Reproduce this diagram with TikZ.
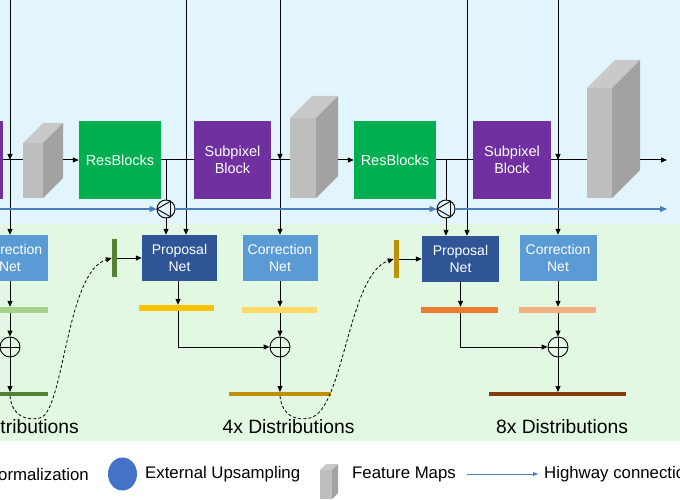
\documentclass[tikz,border=0pt]{standalone}
\usepackage{fontspec}
\setmainfont{Liberation Sans}
\usetikzlibrary{arrows.meta,calc,shapes.geometric}
\definecolor{bgblue}{HTML}{E2F5FD}
\definecolor{bggreen}{HTML}{E3F8E3}
\definecolor{resgreen}{HTML}{00B050}
\definecolor{subpurple}{HTML}{7030A0}
\definecolor{propblue}{HTML}{2F5597}
\definecolor{corrblue}{HTML}{5B9BD5}
\definecolor{hwblue}{HTML}{4A7EBB}
\definecolor{legblue}{HTML}{4472C4}
\definecolor{fmfront}{HTML}{BEBEBE}
\definecolor{fmtop}{HTML}{C9C9C9}
\definecolor{fmside}{HTML}{A2A2A2}
\definecolor{barA}{HTML}{A9D18E}
\definecolor{barB}{HTML}{548235}
\definecolor{barC}{HTML}{FFC000}
\definecolor{barD}{HTML}{FFD966}
\definecolor{barE}{HTML}{BF9000}
\definecolor{barF}{HTML}{ED7D31}
\definecolor{barG}{HTML}{F4B183}
\definecolor{barH}{HTML}{843C0C}
\newcommand\featmap[5]{%
  \fill[fmfront] (#1,#2) rectangle ++(#3,#4);
  \fill[fmtop] (#1,#2) -- ++(#5,-#5) -- ++(#3,0) -- ++(-#5,#5) -- cycle;
  \fill[fmside] (#1+#3,#2) -- ++(#5,-#5) -- ++(0,#4) -- ++(-#5,#5) -- cycle;}
\tikzset{
  blk/.style={inner sep=0pt, align=center, text=white, font=\fontsize{14.5}{17}\selectfont, minimum height=77pt},
  net/.style={inner sep=0pt, align=center, text=white, font=\fontsize{14}{16.7}\selectfont, minimum height=46pt},
  bar/.style={inner sep=0pt, minimum height=6pt},
  fbar/.style={inner sep=0pt, minimum height=3.5pt},
  vbar/.style={inner sep=0pt, minimum width=5pt, minimum height=38pt},
  ln/.style={line width=1pt, black},
  arr/.style={ln, -{Triangle[length=6pt,width=5pt]}},
  hw/.style={line width=1.1pt, hwblue, -{Triangle[length=7pt,width=6pt]}},
  oplus/.style={circle, draw, line width=0.9pt, minimum size=20pt, inner sep=0pt,
    path picture={\draw[line width=0.9pt] (path picture bounding box.north) -- (path picture bounding box.south)
      (path picture bounding box.west) -- (path picture bounding box.east);}},
  upc/.style={circle, draw, line width=0.9pt, minimum size=18pt, inner sep=0pt},
  dist/.style={font=\fontsize{19.3}{21}\selectfont, inner sep=0pt},
  leg/.style={font=\fontsize{16.8}{18}\selectfont, inner sep=0pt},
  dsh/.style={line width=0.8pt, dash pattern=on 3pt off 2.2pt, -{Triangle[length=6pt,width=5pt]}}
}
\begin{document}
\begin{tikzpicture}[x=1pt,y=-1pt]
\useasboundingbox (0,0) rectangle (680,500);
\clip (0,0) rectangle (680,500);
% backgrounds
\fill[white] (0,0) rectangle (680,500);
\fill[bgblue] (0,0) rectangle (680,224);
\fill[bggreen] (0,224) rectangle (680,441);

% coordinates
\coordinate (t0) at (10,0);
\coordinate (t1) at (186,0);
\coordinate (t2) at (280,0);
\coordinate (t3) at (467,0);
\coordinate (t4) at (558,0);
\coordinate (j0) at (10,160);
\coordinate (j2) at (280,160);
\coordinate (j4) at (558,160);
\coordinate (b1) at (166,160);
\coordinate (b2) at (446,160);
\coordinate (fm1w) at (23,160);
\coordinate (fm1e) at (63,160);
\coordinate (fm2w) at (290,160);
\coordinate (fm2e) at (338,160);
\coordinate (fm3w) at (587,160);
\coordinate (fm3e) at (640,160);
\coordinate (out) at (667,160);
\coordinate (hw0) at (0,209);
\coordinate (hwout) at (667,209);

% main line segments (behind)
\draw[ln] (3,160) -- (fm1w);
\draw[ln] (fm2w) -- (fm2e);

% feature maps
\featmap{23}{143}{20}{55}{20}
\featmap{290}{118}{26}{80}{22}
\featmap{587}{88}{25}{110}{28}

% blocks
\node[blk, fill=subpurple, minimum width=77pt] (sp0) at (-35.5,160) {};
\node[blk, fill=resgreen, minimum width=82pt] (rb1) at (120,160) {ResBlocks};
\node[blk, fill=subpurple, minimum width=77pt] (sp1) at (232.5,160) {Subpixel\\Block};
\node[blk, fill=resgreen, minimum width=82pt] (rb2) at (395,160) {ResBlocks};
\node[blk, fill=subpurple, minimum width=78pt] (sp2) at (512,160) {Subpixel\\Block};

% upsampling circles
\node[upc] (up1) at (166,209) {};
\node[upc] (up2) at (446,209) {};
\foreach \u in {up1,up2}{
  \draw[line width=0.9pt] ([shift={(180:9)}]\u.center) -- ([shift={(60:9)}]\u.center) -- ([shift={(-60:9)}]\u.center) -- cycle;}

% nets
\node[net, fill=corrblue, minimum width=75pt] (cn0) at (10,258) {Correction\\Net};
\node[net, fill=propblue, minimum width=75pt] (pn1) at (179.5,258) {Proposal\\Net};
\node[net, fill=corrblue, minimum width=75pt] (cn1) at (280,258) {Correction\\Net};
\node[net, fill=propblue, minimum width=77pt] (pn2) at (460.5,259) {Proposal\\Net};
\node[net, fill=corrblue, minimum width=77pt] (cn2) at (558,258) {Correction\\Net};

% bars
\node[bar, fill=barA, minimum width=75pt] (bc0) at (10.5,310) {};
\node[fbar, fill=barB, minimum width=98pt] (bd0) at (-1,394) {};
\node[vbar, fill=barB] (vb1) at (114.5,258) {};
\node[bar, fill=barC, minimum width=75pt] (bp1) at (176.5,308) {};
\node[bar, fill=barD, minimum width=75pt] (bc1) at (279.5,310) {};
\node[fbar, fill=barE, minimum width=102pt] (bd1) at (280,394) {};
\node[vbar, fill=barE] (vb2) at (396.5,259) {};
\node[bar, fill=barF, minimum width=77pt] (bp2) at (459.5,310) {};
\node[bar, fill=barG, minimum width=77pt] (bc2) at (557.5,310) {};
\node[fbar, fill=barH, minimum width=137pt] (bd2) at (557.5,394) {};

% oplus
\node[oplus] (op0) at (10,347) {};
\node[oplus] (op1) at (280,347) {};
\node[oplus] (op2) at (558,347) {};

% main line connectors
\draw[arr] (fm1e) -- (rb1.west);
\draw[ln] (rb1.east) -- (sp1.west);
\draw[ln] (sp1.east) -- (fm2w);
\draw[arr] (fm2e) -- (rb2.west);
\draw[ln] (rb2.east) -- (sp2.west);
\draw[ln] (sp2.east) -- (fm3w);
\draw[arr] (fm3e) -- (out);

% top verticals
\draw[arr] (t0) -- (j0);
\draw[arr] (j0) -- (cn0.north);
\draw[arr] (t1) -- (t1 |- pn1.north);
\draw[arr] (t2) -- (j2);
\draw[arr] (j2) -- (cn1.north);
\draw[arr] (t3) -- (t3 |- pn2.north);
\draw[arr] (t4) -- (j4);
\draw[arr] (j4) -- (cn2.north);

% branches through upsampling
\draw[ln] (b1) -- (up1.north);
\draw[arr] (up1.south) -- (up1.south |- pn1.north);
\draw[ln] (b2) -- (up2.north);
\draw[arr] (up2.south) -- (up2.south |- pn2.north);

% highway
\draw[hw] (hw0) -- (up1.west);
\draw[hw] (up1.east) -- (up2.west);
\draw[hw] (up2.east) -- (hwout);

% stage 1 (partial)
\draw[arr] (cn0.south) -- (cn0.south |- bc0.north);
\draw[arr] (cn0.south |- bc0.south) -- (op0.north);
\draw[arr] (op0.south) -- (op0.south |- bd0.north);
\draw[dsh] (op0.south |- bd0.south) .. controls (12,416) and (26,421) .. (40,418)
  .. controls (64,412) and (66,272) .. (vb1.west);
\draw[arr] (vb1.east) -- (pn1.west);

% stage 2
\coordinate (p1s) at (178,281);
\draw[arr] (p1s) -- (p1s |- bp1.north);
\draw[arr] (p1s |- bp1.south) |- (op1.west);
\draw[arr] (cn1.south) -- (cn1.south |- bc1.north);
\draw[arr] (cn1.south |- bc1.south) -- (op1.north);
\draw[arr] (op1.south) -- (op1.south |- bd1.north);
\draw[dsh] (op1.south |- bd1.south) .. controls (282,416) and (296,421) .. (310,418)
  .. controls (344,410) and (348,274) .. (vb2.west);
\draw[arr] (vb2.east) -- (pn2.west);

% stage 3
\draw[arr] (pn2.south) -- (pn2.south |- bp2.north);
\draw[arr] (pn2.south |- bp2.south) |- (op2.west);
\draw[arr] (cn2.south) -- (cn2.south |- bc2.north);
\draw[arr] (cn2.south |- bc2.south) -- (op2.north);
\draw[arr] (op2.south) -- (op2.south |- bd2.north);

% labels
\node[dist, anchor=east] (l1) at (79,427) {2x Distributions};
\node[dist] (l2) at (288.5,427) {4x Distributions};
\node[dist] (l3) at (562,427) {8x Distributions};

% legend
\node[leg, anchor=east] (g1) at (89,474) {Normalization};
\node[ellipse, fill=legblue, minimum width=29pt, minimum height=33pt, inner sep=0pt] (g2) at (122.5,474) {};
\node[leg, anchor=west] (g3) at (145,474) {External Upsampling};
\featmap{320}{470}{12}{29}{6}
\node[leg, anchor=west] (g5) at (352,474) {Feature Maps};
\coordinate (g6a) at (467,474);
\coordinate (g6b) at (538,474);
\draw[line width=0.8pt, hwblue, -{Triangle[length=5pt,width=4pt]}] (g6a) -- (g6b);
\node[leg, anchor=west] (g7) at (544,474) {Highway connection};
\end{tikzpicture}
\end{document}
